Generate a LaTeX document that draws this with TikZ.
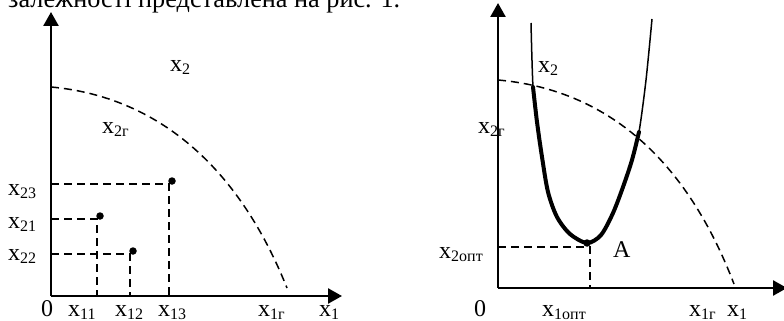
\documentclass[tikz,border=0pt]{standalone}
\usepackage{fontspec}
\setmainfont{Liberation Serif}
\usetikzlibrary{arrows.meta}
\newcommand\sbx[1]{\raisebox{-3pt}{\fontsize{16}{16}\selectfont #1}}
\newcommand\xl[1]{x\sbx{#1}}
\begin{document}
\begin{tikzpicture}[x=1pt,y=-1pt,
  lab/.style={anchor=base west, inner sep=0pt, font=\fontsize{24}{24}\selectfont},
  axisline/.style={line width=2.5pt, -{Triangle[length=14pt,width=15pt]}},
  dsh/.style={line width=1.5pt, dash pattern=on 8pt off 5pt},
  dotmark/.style={circle, fill, inner sep=0pt, minimum size=7.5pt},
  curvethin/.style={line width=1.5pt},
  curvethick/.style={line width=4pt, line cap=round}
]
\useasboundingbox (0,0) rectangle (784,321);

% caption fragment
\node[lab] (cap) at (8,8) {\resizebox{392pt}{!}{\fontsize{27}{27}\selectfont залежності представлена на рис. 1.}};

% ---------- left plot ----------
\coordinate (O1) at (51,296);
\coordinate (Y1) at (51,12);
\coordinate (X1) at (342,296);
\draw[axisline] (O1) -- (Y1);
\draw[axisline] (O1) -- (X1);

\coordinate (gA) at (51,87);
\coordinate (gB) at (287,288);
\draw[dsh] (gA) .. controls (150,96) and (235,158) .. (gB);

\coordinate (h23) at (51,184); \coordinate (c23) at (169,184); \coordinate (b23) at (169,296);
\coordinate (h21) at (51,219); \coordinate (c21) at (97,219);  \coordinate (b21) at (97,296);
\coordinate (h22) at (51,254); \coordinate (c22) at (130,254); \coordinate (b22) at (130,296);
\draw[dsh] (h23) -- (c23) -- (b23);
\draw[dsh] (h21) -- (c21) -- (b21);
\draw[dsh] (h22) -- (c22) -- (b22);
\node[dotmark] (p3) at (172,181) {};
\node[dotmark] (p1) at (100,216) {};
\node[dotmark] (p2) at (133,251) {};

\node[lab] (lx2a)  at (170,71)  {\xl{2}};
\node[lab] (lx2ga) at (102,133) {\xl{2г}};
\node[lab] (lx23)  at (8,195)   {\xl{23}};
\node[lab] (lx21)  at (8,228)   {\xl{21}};
\node[lab] (lx22)  at (8,260)   {\xl{22}};
\node[lab] (l0a)   at (41,316)  {0};
\node[lab] (lx11)  at (68,316)  {\xl{11}};
\node[lab] (lx12)  at (115,316) {\xl{12}};
\node[lab] (lx13)  at (158,316) {\xl{13}};
\node[lab] (lx1ga) at (258,316) {\xl{1г}};
\node[lab] (lx1a)  at (319,316) {\xl{1}};

% ---------- right plot ----------
\coordinate (O2) at (498,288);
\coordinate (Y2) at (498,3);
\coordinate (X2) at (787,288);
\draw[axisline] (O2) -- (Y2);
\draw[axisline] (O2) -- (X2);

\coordinate (gC) at (498,80);
\coordinate (gD) at (734,284);
\draw[dsh] (gC) .. controls (600,89) and (683,151) .. (gD);

\draw[curvethin] plot[smooth] coordinates {(531,23) (533,87) (537,122) (542,157) (548,192) (557,217) (570,234) (587,243) (601,235) (613,213) (623,187) (632,160) (639,132) (646,80) (652,19)};
\draw[curvethick] plot[smooth] coordinates {(533,87) (537,122) (542,157) (548,192) (557,217) (570,234) (587,243) (601,235) (613,213) (623,187) (632,160) (639,132)};

\coordinate (hA) at (498,247); \coordinate (cA) at (590,247); \coordinate (bA) at (590,288);
\draw[dsh] (hA) -- (cA) -- (bA);
\node[dotmark] (pA) at (587,243) {};

\node[lab] (lx2b)   at (538,72)  {\xl{2}};
\node[lab] (lx2gb)  at (478,133) {\xl{2г}};
\node[lab] (lx2opt) at (439,258) {\xl{2опт}};
\node[lab] (lA)     at (613,257) {A};
\node[lab] (l0b)    at (474,316) {0};
\node[lab] (lx1opt) at (542,316) {\xl{1опт}};
\node[lab] (lx1gb)  at (689,316) {\xl{1г}};
\node[lab] (lx1b)   at (727,316) {\xl{1}};
\end{tikzpicture}
\end{document}
